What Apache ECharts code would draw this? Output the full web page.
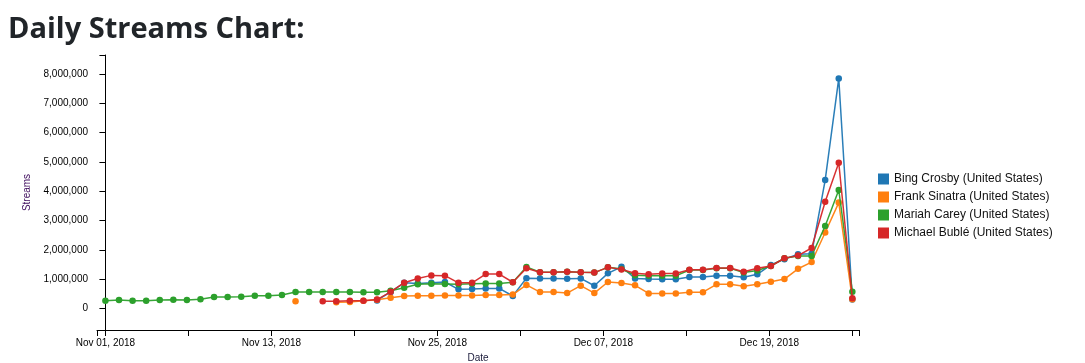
<!DOCTYPE html>
<html>
<head>
<meta charset="utf-8">
<script src="https://cdn.jsdelivr.net/npm/echarts@6/dist/echarts.min.js"></script>
<style>
html,body{margin:0;padding:0;background:#fff;}
#chart{width:1085px;height:363px;}
</style>
</head>
<body>
<div id="chart"></div>
<script>
// ---- data ----
// 56 daily points; the reference's date axis spans Nov 01 .. Dec 25 across them
const firstDate = '2018-11-01';
const pointCount = 56;
const axisStartDate = '2018-11-01';
const axisEndDate = '2018-12-25';
const seriesNames = ['Bing Crosby (United States)', 'Frank Sinatra (United States)', 'Mariah Carey (United States)', 'Michael Bublé (United States)'];
const seriesColors = ['#1f77b4', '#ff7f0e', '#2ca02c', '#d62728'];
const bingCrosby = [null,null,null,null,null,null,null,null,null,null,null,null,null,null,null,null,null,null,null,null,
  270000,560000,870000,850000,870000,900000,650000,660000,680000,680000,420000,1030000,1020000,1020000,1010000,1020000,770000,1195000,1420000,1020000,1000000,990000,990000,1070000,1070000,1110000,1110000,1060000,1160000,1480000,1680000,1850000,1860000,4380000,7850000,300000];
const frankSinatra = [null,null,null,null,null,null,null,null,null,null,null,null,null,null,
  240000,null,null,210000,220000,260000,290000,360000,420000,430000,430000,440000,440000,440000,455000,455000,470000,800000,555000,555000,520000,775000,520000,900000,865000,785000,510000,510000,510000,550000,550000,820000,820000,750000,820000,910000,1000000,1350000,1580000,2590000,3610000,310000];
const mariahCarey = [262000,284000,262000,262000,284000,296000,284000,307000,387000,387000,398000,432000,432000,455000,
  555000,555000,555000,555000,555000,550000,550000,600000,
  700000,820000,840000,830000,820000,840000,850000,850000,890000,
  1410000,1230000,1230000,1250000,1230000,1220000,1400000,1340000,
  1130000,1110000,1110000,1110000,1310000,1310000,1370000,1370000,
  1220000,1290000,1445000,1710000,1790000,1790000,2810000,4040000,570000];
const michaelBuble = [null,null,null,null,null,null,null,null,null,null,null,null,null,null,null,null,
  240000,240000,260000,260000,300000,565000,875000,1020000,1125000,1115000,870000,870000,1170000,1170000,890000,1370000,1230000,1230000,1250000,1230000,1220000,1400000,1330000,1195000,1160000,1190000,1190000,1320000,1320000,1380000,1380000,1250000,1370000,1445000,1710000,1800000,2060000,3640000,4970000,340000];
const yTickValues = [0,1000000,2000000,3000000,4000000,5000000,6000000,7000000,8000000];
const xTickDates = ['2018-11-01','2018-11-07','2018-11-13','2018-11-19','2018-11-25','2018-12-01','2018-12-07','2018-12-13','2018-12-19','2018-12-25'];
const xLabelDates = ['2018-11-01','2018-11-13','2018-11-25','2018-12-07','2018-12-19'];
const monthNames = ['Jan','Feb','Mar','Apr','May','Jun','Jul','Aug','Sep','Oct','Nov','Dec'];

// ---- build ----
const DAY = 86400000;
function parseD(s){ const p = s.split('-').map(Number); return Date.UTC(p[0], p[1]-1, p[2]); }
const t0 = parseD(axisStartDate), t1 = parseD(axisEndDate);
const unitsPerDay = (pointCount - 1) / ((t1 - t0) / DAY);   // axis position units per calendar day
function datePos(s){ return (parseD(s) - t0) / DAY * unitsPerDay; }
function posLabel(p){
  const d = new Date(t0 + Math.round(p / unitsPerDay) * DAY);
  return monthNames[d.getUTCMonth()] + ' ' + String(d.getUTCDate()).padStart(2,'0') + ', ' + d.getUTCFullYear();
}
const xMin = -0.62, xMax = (pointCount - 1) + 0.49;
const yMin = -740000, yMax = 8650000;

const allSeries = [bingCrosby, frankSinatra, mariahCarey, michaelBuble].map((vals, i) => ({
  name: seriesNames[i],
  type: 'line',
  data: vals.map((v, j) => [j, v]),
  connectNulls: false,
  showSymbol: true,
  showAllSymbol: true,
  symbol: 'circle',
  symbolSize: 6.5,
  itemStyle: { color: seriesColors[i] },
  lineStyle: { width: 1.5, color: seriesColors[i], opacity: 0.95 },
  emphasis: { disabled: true },
  z: 2 + i
}));

const font = 'Liberation Sans, Arial, sans-serif';
const chart = echarts.init(document.getElementById('chart'), null, { renderer: 'canvas' });
chart.setOption({
  animation: false,
  backgroundColor: '#ffffff',
  title: {
    text: 'Daily Streams Chart:',
    left: 3, top: 10,
    textStyle: { fontFamily: 'Open Sans', fontWeight: 'bold', fontSize: 29, color: '#212529' }
  },
  legend: {
    orient: 'vertical',
    left: 873, top: 168,
    itemWidth: 11, itemHeight: 11, itemGap: 6,
    icon: 'rect',
    textStyle: { fontFamily: font, fontSize: 12, color: '#111' },
    data: seriesNames
  },
  grid: { left: 97, right: 226, top: 55, bottom: 33, outerBoundsMode: 'none', containLabel: false },
  xAxis: {
    type: 'value',
    min: xMin, max: xMax,
    name: 'Date', nameLocation: 'middle', nameGap: 23,
    nameTextStyle: { fontFamily: font, fontSize: 10, color: '#1a1a3a' },
    axisLine: { show: true, onZero: false, lineStyle: { color: '#000', width: 1 } },
    axisTick: { show: true, length: 6, lineStyle: { color: '#000' },
      customValues: [xMin].concat(xTickDates.map(datePos), [xMax]) },
    axisLabel: { customValues: xLabelDates.map(datePos), margin: 8,
      fontFamily: font, fontSize: 10, color: '#000',
      formatter: v => posLabel(v) },
    splitLine: { show: false }
  },
  yAxis: {
    type: 'value',
    min: yMin, max: yMax,
    name: 'Streams', nameLocation: 'middle', nameGap: 61,
    nameTextStyle: { fontFamily: font, fontSize: 10, color: '#3d0a5c' },
    axisLine: { show: true, lineStyle: { color: '#000', width: 1 } },
    axisTick: { show: true, length: 6, lineStyle: { color: '#000' },
      customValues: [yMin].concat(yTickValues, [yMax]) },
    axisLabel: { customValues: yTickValues, margin: 9,
      fontFamily: font, fontSize: 10, color: '#000',
      formatter: v => Number(v).toLocaleString('en-US') },
    splitLine: { show: false }
  },
  series: allSeries
});
</script>
</body>
</html>
